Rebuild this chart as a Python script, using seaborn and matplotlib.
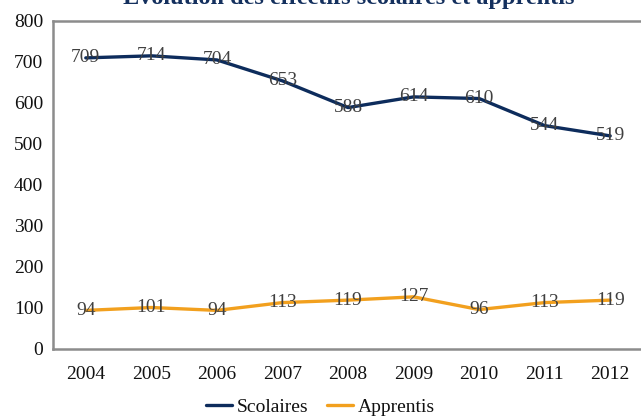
import matplotlib
matplotlib.use("Agg")
import matplotlib.pyplot as plt
import seaborn as sns
import pandas as pd

years = ["2004", "2005", "2006", "2007", "2008", "2009", "2010", "2011", "2012"]
scolaires = [709, 714, 704, 653, 588, 614, 610, 544, 519]
apprentis = [94, 101, 94, 113, 119, 127, 96, 113, 119]
series_names = ["Scolaires", "Apprentis"]
colors = ["#0D2C5C", "#F2A01E"]
title = "Évolution des effectifs scolaires et apprentis"

sns.set_theme(style="white")
plt.rcParams["font.family"] = ["Liberation Serif", "DejaVu Serif"]

df = pd.DataFrame({
    "year": years * 2,
    "value": scolaires + apprentis,
    "serie": [series_names[0]] * len(years) + [series_names[1]] * len(years),
})

fig = plt.figure(figsize=(6.41, 4.17), dpi=100)
ax = fig.add_axes([0.0827, 0.1631, 0.9204, 0.7877])
sns.lineplot(data=df, x="year", y="value", hue="serie", palette=colors,
             linewidth=2.4, ax=ax, sort=False, legend=True)

for vals in (scolaires, apprentis):
    for i, v in enumerate(vals):
        ax.text(i, v, str(v), ha="center", va="center", fontsize=14,
                color="#404040")

ax.set_xlim(-0.5, len(years) - 0.5)
ax.set_ylim(0, 800)
ax.set_yticks(range(0, 801, 100))
ax.set_xlabel("")
ax.set_ylabel("")
ax.tick_params(axis="both", length=0, labelsize=14, colors="#111111")
ax.tick_params(axis="x", pad=12.5)
ax.tick_params(axis="y", pad=7)
for s in ax.spines.values():
    s.set_color("#8C8C8C")
    s.set_linewidth(1.8)

# Title sits at the very top edge, partly outside the canvas as in the reference
fig.text(0.5445, 1 - 4 / 417, title, ha="center", va="baseline",
         fontsize=17.5, fontweight="bold", color="#14305E")

handles, labels = ax.get_legend_handles_labels()
ax.get_legend().remove()
leg = fig.legend(handles, labels, loc="center", bbox_to_anchor=(0.5, 1 - 407 / 417),
                 ncol=2, frameon=False, fontsize=14, handlelength=1.35,
                 handletextpad=0.27, columnspacing=0.93, borderpad=0, borderaxespad=0)
for t in leg.get_texts():
    t.set_color("#111111")

fig.savefig("out.png", dpi=100)
